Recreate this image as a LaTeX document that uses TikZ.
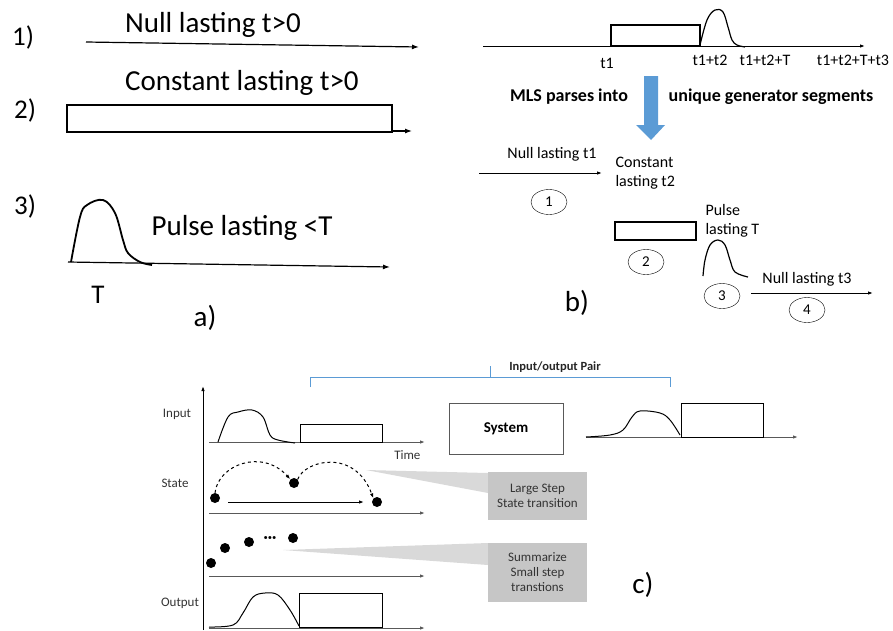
\documentclass[tikz,border=0pt]{standalone}
\usepackage{fontspec}
\setmainfont{Carlito}
\usetikzlibrary{arrows.meta,shapes.geometric,positioning}

\begin{document}
\begin{tikzpicture}[x=1pt,y=-1pt,
    arr/.style={-{Latex[length=7pt,width=5pt]}},
    smallarr/.style={-{Latex[length=5pt,width=3.5pt]}},
    numcirc/.style={draw,ellipse,minimum width=36pt,minimum height=25pt,inner sep=0pt,font=\fontsize{15}{15}\selectfont},
    callout/.style={fill=gray!45,text=black!80,align=center,font=\fontsize{13}{15}\selectfont},
    dot/.style={circle,fill=black,inner sep=0pt,minimum size=10pt}]

%%%%%%%%%%%%%%%%%%%%%%
%%%	   Def style    %%%
%%%%%%%%%%%%%%%%%%%%%%

\def \heavy{1.8pt}
\def \medium{1.2pt}
\def \light{1pt}
\definecolor{bluearrow}{HTML}{5B9BD5}

\useasboundingbox (0,0) rectangle (893,630);

%%%%%%%%%%%%%%%%%%%%%%
%%%	   Panneau a    %%%
%%%%%%%%%%%%%%%%%%%%%%

\begin{scope}[font=\fontsize{29}{31}\selectfont]
\node[font=\fontsize{27}{29}\selectfont] (un) at (23,37) {1)};
\node[font=\fontsize{27}{29}\selectfont] (deux) at (25,110) {2)};
\node[font=\fontsize{27}{29}\selectfont] (trois) at (25,206) {3)};
\node (nullt) at (213,25) {Null lasting t>0};
\node (constt) at (242,83) {Constant lasting t>0};
\node (pulset) at (242,228) {Pulse lasting <T};
\node[font=\fontsize{27}{29}\selectfont] (T) at (98,295) {T};
\node[font=\fontsize{29}{31}\selectfont] (a) at (205,318) {a)};
\end{scope}

% 1) segment nul
\coordinate (nullA) at (86,42);
\coordinate (nullB) at (419,47);
\draw[arr,line width=\medium] (nullA) -- (nullB);

% 2) segment constant
\draw[line width=\heavy] (67,105) rectangle (392,132);
\coordinate (constA) at (392,131);
\coordinate (constB) at (412,131);
\draw[arr,line width=\medium] (constA) -- (constB);

% 3) impulsion
\coordinate (pulseA) at (68,262);
\coordinate (pulseB) at (390,267);
\draw[arr,line width=\medium] (pulseA) -- (pulseB);
\draw[line width=\heavy] plot[smooth,tension=0.6] coordinates {(71,262) (80,217) (87,205) (103,200) (115,213) (123,240) (128,253) (140,262) (152,265)};

%%%%%%%%%%%%%%%%%%%%%%
%%%	   Panneau b    %%%
%%%%%%%%%%%%%%%%%%%%%%

% Signal complet
\coordinate (axeA) at (483,46);
\coordinate (axeB) at (865,46);
\draw[smallarr,line width=\light] (axeA) -- (axeB);
\draw[line width=\medium] (611,46) rectangle (700,25);
\draw[line width=\medium] plot[smooth,tension=0.6] coordinates {(700,45) (707,20) (715,10) (723,12) (728,27) (732,40) (737,45) (745,47)};

\begin{scope}[font=\fontsize{16}{16}\selectfont]
\node (tun) at (607,63) {t1};
\node (tdeux) at (710,60) {t1+t2};
\node (tT) at (765,60) {t1+t2+T};
\node (ttrois) at (853,60) {t1+t2+T+t3};
\end{scope}

% Fleche bleue
\fill[bluearrow] (644,76) -- (658,76) -- (658,125) -- (665,125) -- (651,140) -- (636,125) -- (644,125) -- cycle;
\node[font=\bfseries\fontsize{18}{18}\selectfont] (mls) at (569,97) {MLS parses into};
\node[font=\bfseries\fontsize{18}{18}\selectfont] (uniq) at (771,97) {unique generator segments};

% Segments
\begin{scope}[font=\fontsize{16}{19}\selectfont]
\node (nullun) at (552,154) {Null lasting t1};
\node[align=left,anchor=west] (constdeux) at (612,173) {Constant\\lasting t2};
\node[align=left,anchor=west] (pulsetxt) at (702,221) {Pulse\\lasting T};
\node (nulltrois) at (807,279) {Null lasting t3};
\end{scope}

\coordinate (segunA) at (479,173);
\coordinate (segunB) at (602,173);
\draw[smallarr,line width=\light] (segunA) -- (segunB);
\node[numcirc] (c1) at (549,202) {1};

\draw[line width=\medium] (615,222) rectangle (696,240);
\node[numcirc] (c2) at (646,262) {2};

\draw[line width=\medium] plot[smooth,tension=0.6] coordinates {(703,276) (705,260) (710,245) (718,240) (725,245) (730,260) (735,272) (748,277)};
\node[numcirc] (c3) at (722,296) {3};

\coordinate (segqA) at (751,293);
\coordinate (segqB) at (873,293);
\draw[smallarr,line width=\light] (segqA) -- (segqB);
\node[numcirc] (c4) at (807,310) {4};

\node[font=\fontsize{29}{31}\selectfont] (b) at (577,303) {b)};

%%%%%%%%%%%%%%%%%%%%%%
%%%	   Panneau c    %%%
%%%%%%%%%%%%%%%%%%%%%%

% Axe vertical et axes du temps
\coordinate (vaxeA) at (203,630);
\coordinate (vaxeB) at (203,386);
\draw[smallarr,line width=\light] (vaxeA) -- (vaxeB);
\foreach \yy/\nom in {442/in,513/st,576/sm,628/out} {
  \coordinate (\nom A) at (209,\yy);
  \coordinate (\nom B) at (425,\yy);
  \draw[smallarr,line width=\light,gray!70!black] (\nom A) -- (\nom B);
}

\begin{scope}[font=\fontsize{13}{13}\selectfont,text=black!80]
\node (input) at (177,414) {Input};
\node (state) at (175,483) {State};
\node (output) at (180,603) {Output};
\node[anchor=east] (time) at (424,455) {Time};
\end{scope}

% Entree
\draw[line width=\light] plot[smooth,tension=0.6] coordinates {(218,442) (228,417) (238,412) (252,410) (263,417) (270,435) (278,440) (295,443)};
\draw[line width=\light] (300,424) rectangle (382,442);

% Etat : grands pas
\node[dot] (e1) at (215,498) {};
\node[dot] (e2) at (294,483) {};
\node[dot] (e3) at (377,502) {};
\coordinate (eA) at (228,502);
\coordinate (eB) at (364,502);
\draw[smallarr,line width=\light] (eA) -- (eB);
\draw[smallarr,dashed,line width=\light] (e1.north) .. controls (218,465) and (262,448) .. (e2.north west);
\draw[smallarr,dashed,line width=\light] (e2.north east) .. controls (305,460) and (355,448) .. (e3.north west);

% Etat : petits pas
\node[dot] (p1) at (211,563) {};
\node[dot] (p2) at (225,548) {};
\node[dot] (p3) at (249,542) {};
\node[font=\bfseries\fontsize{16}{16}\selectfont] (pdots) at (270,540) {···};
\node[dot] (p4) at (293,538) {};

% Sortie
\draw[line width=\light] plot[smooth,tension=0.6] coordinates {(209,627) (233,625) (243,613) (253,597) (265,593) (278,595) (290,610) (299,626)};
\draw[line width=\light] (299,593) rectangle (382,627);

% Paire entree/sortie
\draw[bluearrow,line width=\light] (310,387) -- (310,377) -- (670,377) -- (670,387);
\draw[bluearrow,line width=\light] (490,377) -- (490,366);
\node[font=\bfseries\fontsize{12.5}{12.5}\selectfont,text=black!85] (pair) at (555,367) {Input/output Pair};

\node[draw=gray!70!black,line width=\light,minimum width=114pt,minimum height=51pt,font=\bfseries\fontsize{15}{15}\selectfont] (system) at (506,428.5) {System};

\coordinate (sigA) at (586,437);
\coordinate (sigB) at (798,437);
\draw[smallarr,line width=\light,gray!70!black] (sigA) -- (sigB);
\draw[line width=\light] plot[smooth,tension=0.6] coordinates {(586,437) (610,435) (623,430) (632,417) (640,411) (660,413) (670,420) (680,435)};
\draw[line width=\light] (681,403) rectangle (763,437);

% Bulles
\fill[gray!30] (366,470) -- (488,473) -- (488,493) -- cycle;
\fill[gray!30] (283,550) -- (488,543) -- (488,565) -- cycle;
\node[callout,minimum width=99pt,minimum height=48pt] (large) at (537.5,496) {Large Step\\State transition};
\node[callout,minimum width=99pt,minimum height=59pt] (small) at (537.5,572.5) {Summarize\\Small step\\transtions};

\node[font=\fontsize{29}{31}\selectfont] (c) at (643,585) {c)};

\end{tikzpicture}
\end{document}
